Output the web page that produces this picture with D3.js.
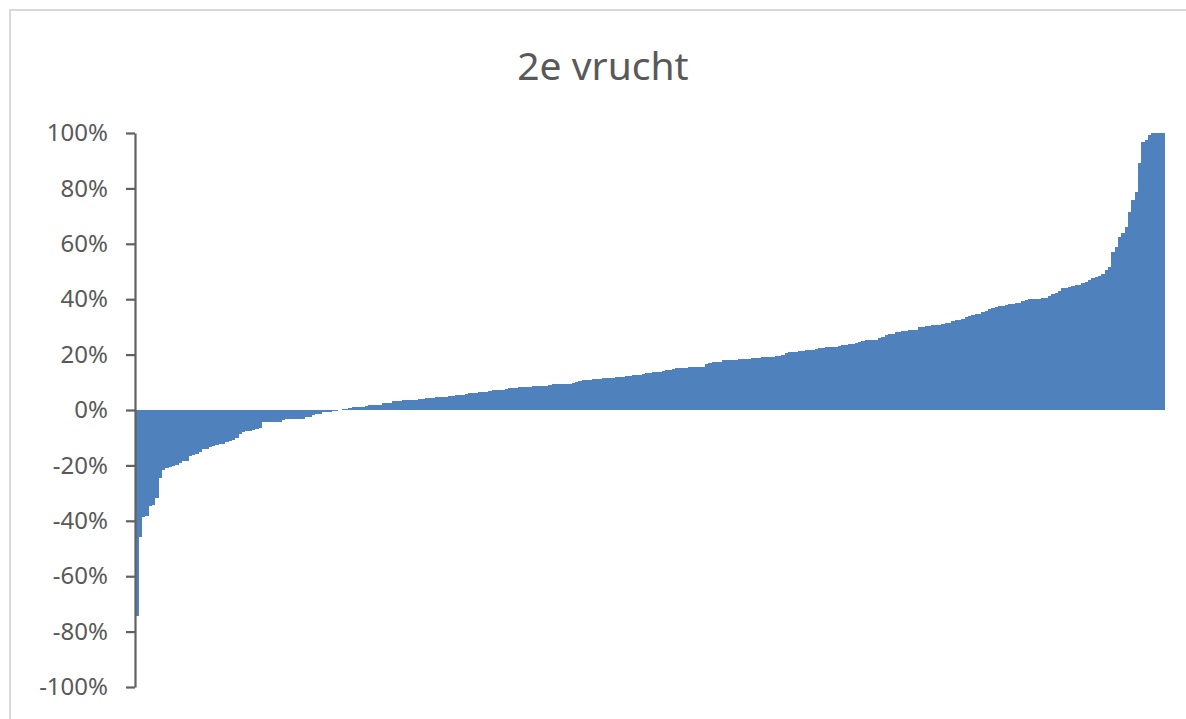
<!DOCTYPE html>
<html>
<head>
<meta charset="utf-8">
<script src="https://cdn.jsdelivr.net/npm/d3@7"></script>
<style>
  html, body { margin: 0; padding: 0; background: #fff; overflow: hidden; }
  svg { display: block; }
</style>
</head>
<body>
<svg id="chart" width="1186" height="719"></svg>
<script>
const title = "2e vrucht";
const yTickValues = [-100, -80, -60, -40, -20, 0, 20, 40, 60, 80, 100];
const yTickLabels = ["-100%", "-80%", "-60%", "-40%", "-20%", "0%", "20%", "40%", "60%", "80%", "100%"];
// sorted percentages, one per bar
const values = [
  -74.5, -46, -38.8, -38.4, -34.6, -34.2, -31.8, -24.5, -21.5, -20.9,
  -20.4, -20.2, -20.0, -19.2, -18.5, -18.3, -16.6, -16.3, -16.0, -15.2,
  -14.2, -14.0, -13.3, -13.1, -12.5, -12.3, -12.1, -11.4, -11.2, -11.0,
  -10.2, -8.6, -8.0, -7.6, -7.5, -7.4, -6.7, -6.5, -4.4, -4.4,
  -4.3, -4.3, -4.2, -4.2, -3.5, -3.4, -3.4, -3.3, -3.3, -3.2,
  -3.2, -2.6, -2.4, -1.8, -1.6, -1.5, -0.9, -0.7, -0.6, -0.4,
  -0.2, 0.1, 0.4, 0.5, 0.6, 1.0, 1.1, 1.2, 1.2, 1.3,
  1.7, 1.8, 1.8, 1.9, 2.4, 2.6, 2.7, 3.1, 3.2, 3.3,
  3.5, 3.6, 3.6, 3.7, 3.7, 3.8, 4.1, 4.2, 4.2, 4.3,
  4.7, 4.7, 4.8, 4.8, 4.9, 4.9, 5.3, 5.4, 5.5, 5.9,
  6.0, 6.0, 6.1, 6.5, 6.6, 6.6, 6.7, 7.1, 7.2, 7.2,
  7.3, 7.7, 7.8, 7.9, 8.1, 8.2, 8.2, 8.3, 8.3, 8.6,
  8.7, 8.7, 8.8, 8.8, 9.2, 9.3, 9.3, 9.4, 9.4, 9.5,
  9.5, 9.6, 10.1, 10.4, 10.8, 10.9, 11.0, 11.1, 11.3, 11.3,
  11.4, 11.4, 11.5, 11.5, 11.9, 12.0, 12.0, 12.1, 12.1, 12.5,
  12.6, 12.7, 13.1, 13.2, 13.3, 13.7, 13.8, 13.8, 13.9, 14.3,
  14.5, 14.9, 15.0, 15.0, 15.1, 15.1, 15.5, 15.6, 15.6, 15.7,
  15.7, 16.6, 16.9, 17.3, 17.4, 17.5, 17.9, 18.0, 18.0, 18.1,
  18.1, 18.3, 18.4, 18.4, 18.5, 18.8, 18.9, 18.9, 19.0, 19.0,
  19.1, 19.1, 19.5, 19.6, 19.7, 20.5, 20.8, 21.0, 21.1, 21.2,
  21.3, 21.6, 21.7, 21.8, 22.2, 22.3, 22.4, 22.7, 22.8, 22.9,
  22.9, 23.0, 23.5, 23.6, 23.7, 23.8, 24.2, 24.4, 25.0, 25.1,
  25.2, 25.3, 25.4, 26.1, 26.4, 27.2, 27.4, 27.5, 28.1, 28.2,
  28.4, 28.7, 28.8, 28.9, 29.0, 29.8, 30.0, 30.4, 30.5, 30.6,
  30.7, 30.8, 31.2, 31.3, 31.4, 32.2, 32.4, 32.5, 32.7, 33.5,
  33.8, 34.3, 34.5, 34.8, 35.3, 35.6, 36.5, 36.8, 37.2, 37.4,
  37.6, 37.8, 38.2, 38.4, 38.6, 38.8, 39.3, 39.6, 39.9, 40.0,
  40.1, 40.2, 40.4, 40.6, 41.3, 41.7, 42.4, 42.9, 43.9, 44.2,
  44.4, 44.9, 45.1, 45.3, 45.8, 46.2, 47.1, 47.5, 47.9, 48.5,
  49.2, 50.5, 51.7, 57.1, 59.0, 62.6, 63.8, 66.2, 71.6, 75.8,
  78.8, 89.1, 96.9, 97.5, 99.3, 100, 100, 100, 100
];

const svg = d3.select("#chart");
const W = 1186, H = 719;
const plot = { left: 135, right: 1164.5, top: 133, bottom: 687 };

svg.append("rect").attr("width", W).attr("height", H).attr("fill", "#fff");
// chart area border (extends past the window on right/bottom)
svg.append("rect")
  .attr("x", 10).attr("y", 10).attr("width", W + 40).attr("height", H + 40)
  .attr("fill", "none").attr("stroke", "#d9d9d9").attr("stroke-width", 2);

const x = d3.scaleBand().domain(d3.range(values.length)).range([plot.left + 0.3, plot.right]).padding(0);
const y = d3.scaleLinear().domain([-100, 100]).range([plot.bottom, plot.top]);

svg.append("text")
  .attr("x", 603).attr("y", 80)
  .attr("text-anchor", "middle")
  .attr("font-family", "'Noto Sans', 'Open Sans', sans-serif")
  .attr("font-size", 39)
  .attr("fill", "#595959")
  .text(title);

const xl = i => Math.round(x(i));
const xr = i => Math.round(x(i) + x.bandwidth());
svg.append("g").attr("shape-rendering", "crispEdges").selectAll("rect")
  .data(values)
  .join("rect")
  .attr("x", (d, i) => xl(i))
  .attr("width", (d, i) => xr(i) - xl(i))
  .attr("y", d => y(Math.max(0, d)))
  .attr("height", d => Math.abs(y(d) - y(0)))
  .attr("fill", "#4f81bd");

const axis = d3.axisLeft(y)
  .tickValues(yTickValues)
  .tickFormat((d, i) => yTickLabels[i])
  .tickSizeInner(9).tickSizeOuter(0).tickPadding(18);

const g = svg.append("g").attr("transform", `translate(${plot.left},0)`).call(axis);
g.select(".domain").attr("stroke", "#616161").attr("stroke-width", 2.2);
g.selectAll(".tick line").attr("stroke", "#616161").attr("stroke-width", 2.2);
g.selectAll(".tick text")
  .attr("font-family", "'Noto Sans', 'Open Sans', sans-serif")
  .attr("font-size", 24)
  .attr("fill", "#595959");
</script>
</body>
</html>
